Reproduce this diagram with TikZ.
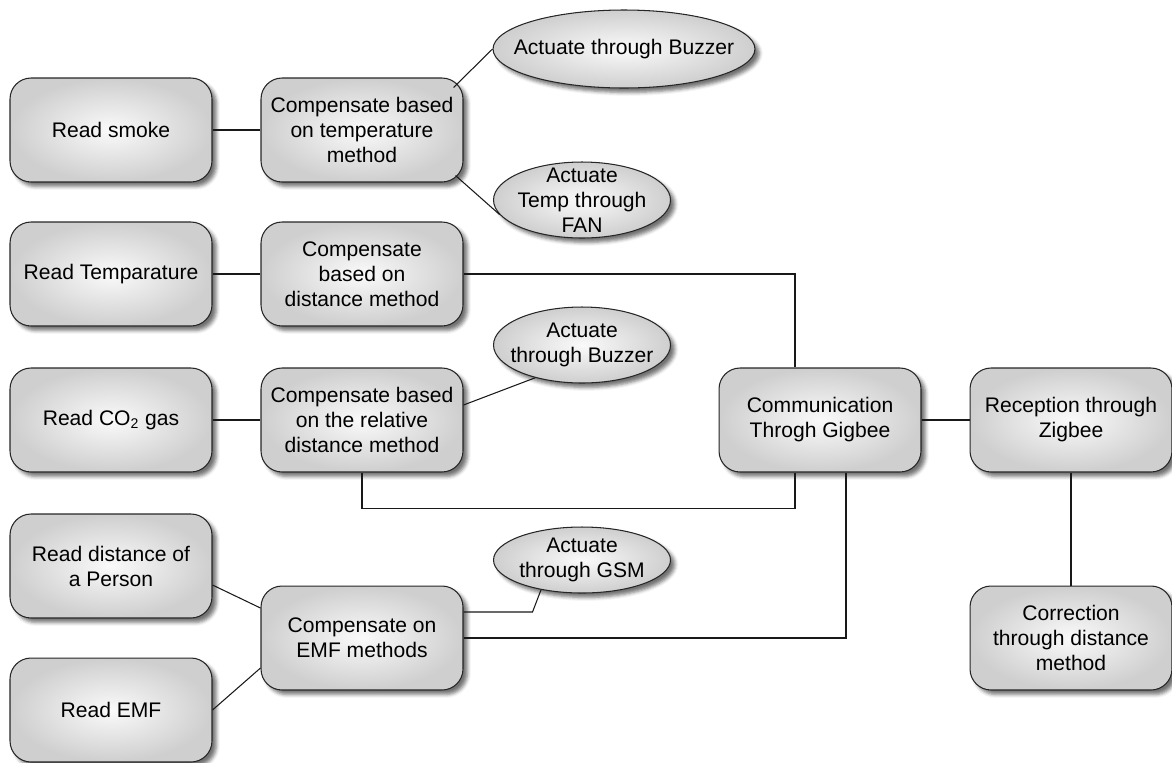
\documentclass[tikz,border=0pt]{standalone}
\usepackage{fontspec}
\setmainfont{Liberation Sans}
\usetikzlibrary{shapes.geometric,shadows.blur,calc}

\begin{document}
\begin{tikzpicture}[x=0.02cm, y=-0.02cm,
		box/.style={draw=black!85, line width=0.6pt, rounded corners=0.42cm,
			minimum width=4.04cm, minimum height=2.08cm, align=center,
			shading=radial, inner color=gray!4, outer color=gray!38,
			blur shadow={shadow xshift=2.5pt, shadow yshift=-2.5pt, shadow blur radius=2pt, shadow opacity=55},
			font=\fontsize{12}{14.2}\selectfont},
		act/.style={box, ellipse, rounded corners=0pt, inner xsep=-12pt, inner ysep=-8pt,
			minimum width=3.54cm, minimum height=1.52cm},
		link/.style={draw=black!90, line width=0.6pt}]
			\useasboundingbox (0, 0) rectangle (1172, 762);
			% sensors
			\node[box] (smoke) at (111, 130) {Read smoke};
			\node[box] (temp) at (111, 274) {Read Temparature};
			\node[box] (co2) at (111, 420) {Read CO\textsubscript{2} gas};
			\node[box] (dist) at (111, 566) {Read distance of\\a Person};
			\node[box] (emf) at (111, 710) {Read EMF};
			% compensation
			\node[box] (ctemp) at (362, 130) {Compensate based\\on temperature\\method};
			\node[box] (cdist) at (362, 274) {Compensate\\based on\\distance method};
			\node[box] (crel) at (362, 420) {Compensate based\\on the relative\\distance method};
			\node[box] (cemf) at (362, 638) {Compensate on\\EMF methods};
			% actuators
			\node[act, minimum width=5.24cm, minimum height=1.56cm] (buzz1) at (624, 49) {Actuate through Buzzer};
			\node[act] (fan) at (582, 200) {Actuate\\Temp through\\FAN};
			\node[act] (buzz2) at (582, 345) {Actuate\\through Buzzer};
			\node[act, minimum height=1.32cm] (gsm) at (582, 560) {Actuate\\through GSM};
			% communication
			\node[box] (comm) at (820, 420) {Communication\\Throgh Gigbee};
			\node[box] (recv) at (1071, 420) {Reception through\\Zigbee};
			\node[box] (corr) at (1071, 638) {Correction\\through distance\\method};

			% connections
			\draw[link] (smoke) -- (ctemp);
			\draw[link] ([shift={(-10,10)}]ctemp.north east) -- (buzz1.west);
			\draw[link] ([shift={(-8,-7)}]ctemp.south east) -- (fan.190);
			\draw[link] (temp) -- (cdist);
			\draw[link] (cdist.east) -| ([shift={(-25,0)}]comm.north);
			\draw[link] (co2) -- (crel);
			\draw[link] ([shift={(0,-15)}]crel.east) -- (buzz2.215);
			\draw[link] (crel.south) -- ++(0, 36) -| ([shift={(-25,0)}]comm.south);
			\draw[link] ([shift={(0,19)}]dist.east) -- ([shift={(0,-30)}]cemf.west);
			\draw[link] (emf.east) -- ([shift={(0,30)}]cemf.west);
			\draw[link] ([shift={(0,-26)}]cemf.east) -- ++(69, 0) -- (gsm.216);
			\draw[link] (cemf.east) -| ([shift={(26,0)}]comm.south);
			\draw[link] (comm) -- (recv);
			\draw[link] (recv) -- (corr);
		\end{tikzpicture}
\end{document}
